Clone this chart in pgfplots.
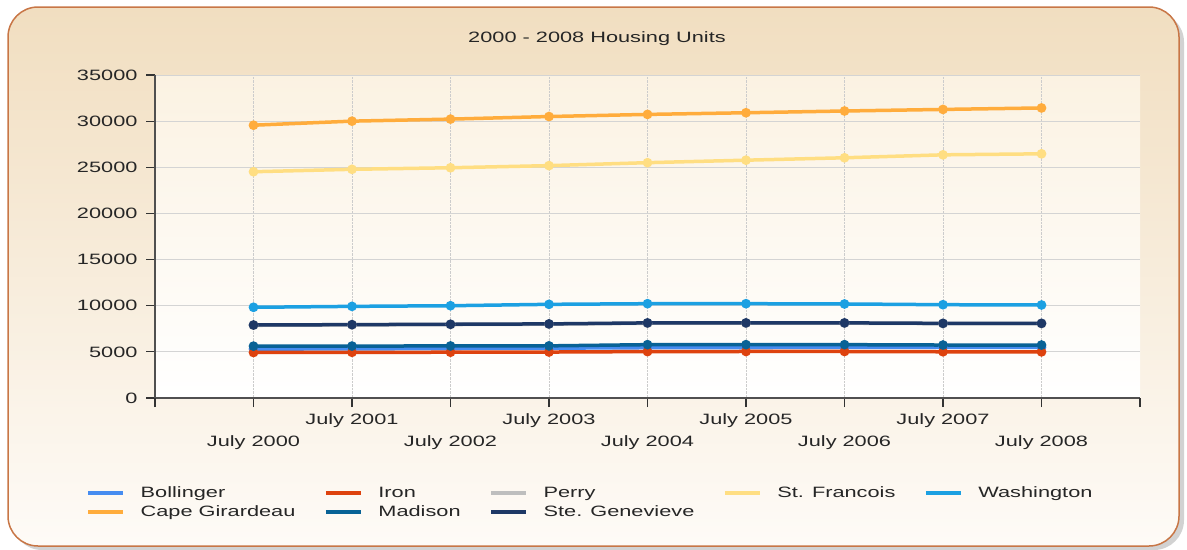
\documentclass[border=0pt]{standalone}
\usepackage{fontspec}
\setmainfont{Liberation Sans}[FakeStretch=1.45]
\usepackage{pgfplots}
\pgfplotsset{compat=1.18}
\definecolor{cBol}{RGB}{70,140,240}
\definecolor{cIro}{RGB}{222,66,14}
\definecolor{cPer}{RGB}{190,190,190}
\definecolor{cStF}{RGB}{255,222,130}
\definecolor{cWas}{RGB}{28,160,226}
\definecolor{cCap}{RGB}{255,172,60}
\definecolor{cMad}{RGB}{8,98,150}
\definecolor{cSte}{RGB}{30,56,102}
\definecolor{frameC}{RGB}{200,118,70}
\definecolor{frameTop}{RGB}{241,222,192}
\definecolor{frameBot}{RGB}{254,251,247}
\definecolor{plotTop}{RGB}{251,242,226}
\definecolor{gridC}{RGB}{212,212,212}
\definecolor{axisC}{RGB}{80,80,80}
\begin{document}
\begin{tikzpicture}[font=\fontsize{15bp}{18bp}\selectfont]
\path[use as bounding box] (0bp,0bp) rectangle (1187bp,-550bp);
\fill[black!35, opacity=0.5, rounded corners=30bp] (12bp,-12bp) rectangle (1184bp,-550bp);
\draw[frameC, line width=1.5bp, rounded corners=30bp, top color=frameTop, bottom color=frameBot] (8bp,-7bp) rectangle (1179bp,-546bp);
\node[text=black!85] at (597bp,-39bp) {2000 - 2008 Housing Units};
\begin{axis}[
  at={(155bp,-398bp)}, anchor=south west,
  scale only axis, width=985bp, height=323bp,
  xmin=-1, xmax=9, ymin=0, ymax=35000,
  axis x line*=bottom, axis y line*=left,
  axis line style={draw=axisC, line width=1.2bp, -},
  axis background/.style={top color=plotTop, bottom color=white},
  xtick={0,1,2,3,4,5,6,7,8},
  xticklabels={{~\\[15bp]July 2000},{July 2001},{~\\[15bp]July 2002},{July 2003},{~\\[15bp]July 2004},{July 2005},{~\\[15bp]July 2006},{July 2007},{~\\[15bp]July 2008}},
  extra x ticks={-1,9}, extra x tick labels={},
  extra x tick style={grid=none},
  ytick={0,5000,...,35000},
  scaled y ticks=false,
  /pgf/number format/assume math mode=true,
  /pgf/number format/set thousands separator={},
  xticklabel style={align=center, text=black!85, inner sep=2bp, yshift=-4bp},
  yticklabel style={text=black!85, xshift=-5bp},
  tick align=outside,
  major tick length=9bp,
  tick style={draw=black!80, line width=1.2bp},
  xmajorgrids, ymajorgrids,
  x grid style={draw=gray!40, densely dotted, line width=0.8bp},
  y grid style={draw=gridC, line width=0.8bp},
  every axis plot/.append style={line width=3.5bp, mark=*, mark size=3bp},
  legend columns=5,
  legend cell align=left,
  legend style={at={(-0.0731,-0.2644)}, anchor=north west, draw=none, fill=none,
    text=black!85, row sep=3bp,
    nodes={inner sep=1.5bp},
    /tikz/every even column/.append style={column sep=27bp},
    /tikz/every odd column/.append style={column sep=14bp}},
  legend image code/.code={\draw[#1, mark=none, line width=4bp] (0bp,0bp) -- (35bp,0bp);},
]
\addplot[cBol] coordinates {(0,5300) (1,5320) (2,5360) (3,5400) (4,5450) (5,5470) (6,5480) (7,5480) (8,5490)};
\addlegendentry{Bollinger}
\addplot[cIro] coordinates {(0,4930) (1,4950) (2,4960) (3,4980) (4,5030) (5,5040) (6,5040) (7,5010) (8,5000)};
\addlegendentry{Iron}
\addplot[cPer] coordinates {(0,7880) (1,7920) (2,7960) (3,8000) (4,8100) (5,8110) (6,8110) (7,8060) (8,8060)};
\addlegendentry{Perry}
\addplot[cStF] coordinates {(0,24520) (1,24780) (2,24950) (3,25180) (4,25500) (5,25770) (6,26030) (7,26350) (8,26460)};
\addlegendentry{St. Francois}
\addplot[cWas] coordinates {(0,9830) (1,9930) (2,10000) (3,10150) (4,10220) (5,10220) (6,10190) (7,10110) (8,10080)};
\addlegendentry{Washington}
\addplot[cCap] coordinates {(0,29560) (1,30000) (2,30220) (3,30500) (4,30730) (5,30910) (6,31100) (7,31270) (8,31430)};
\addlegendentry{Cape Girardeau}
\addplot[cMad] coordinates {(0,5620) (1,5630) (2,5640) (3,5650) (4,5780) (5,5780) (6,5780) (7,5740) (8,5740)};
\addlegendentry{Madison}
\addplot[cSte] coordinates {(0,7910) (1,7950) (2,7990) (3,8030) (4,8140) (5,8140) (6,8140) (7,8090) (8,8090)};
\addlegendentry{Ste. Genevieve}
\end{axis}
\end{tikzpicture}
\end{document}
